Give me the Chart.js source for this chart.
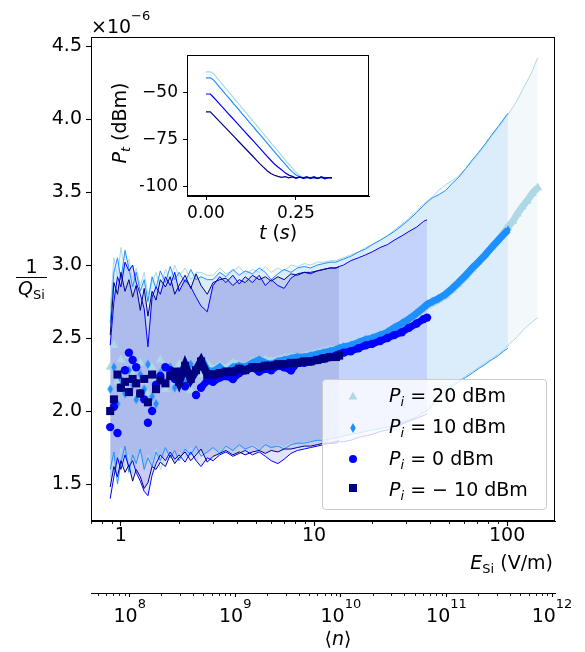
<!DOCTYPE html>
<html><head><meta charset="utf-8">
<script src="https://cdn.jsdelivr.net/npm/chart.js@4"></script>
<style>
html,body{margin:0;padding:0;background:#fff;}
#wrap{position:relative;width:585px;height:652px;overflow:hidden;font-family:'DejaVu Sans',sans-serif;color:#000;}
canvas{position:absolute;}
.t{position:absolute;line-height:1;white-space:nowrap;font-size:19px;}
.i{font-style:italic;}
.sub{font-size:13px;position:relative;top:4px;}
.sup{font-size:13px;position:relative;top:-13.5px;}
#legend{position:absolute;left:322px;top:379px;width:225px;height:131px;box-sizing:border-box;border:1px solid #cccccc;border-radius:4px;background:rgba(255,255,255,0.8);}
#legend svg{position:absolute;}
</style></head><body>
<div id="wrap">
<canvas id="main" width="585" height="652" style="left:0;top:0"></canvas>
<canvas id="inset" width="240" height="215" style="left:140px;top:40px"></canvas>

<div class="t" style="left:91px;top:17.2px">×10<span class="sup">−6</span></div>
<div class="t" style="left:31.5px;top:257.2px;transform:translateX(-50%)">1</div>
<div style="position:absolute;left:16px;top:276.5px;width:31px;height:1.4px;background:#000"></div>
<div class="t" style="left:31.5px;top:279.4px;transform:translateX(-50%)"><span class="i">Q</span><span class="sub">Si</span></div>
<div class="t" style="right:32px;top:552.9px"><span class="i">E</span><span class="sub">Si</span> (V/m)</div>
<div class="t" style="left:338px;top:628.9px;transform:translateX(-50%)">⟨<span class="i">n</span>⟩</div>
<div class="t" style="left:278px;top:223px;transform:translateX(-50%)"><span class="i">t</span> (<span class="i">s</span>)</div>
<div class="t" style="left:118.5px;top:123px;transform:translate(-50%,-50%) rotate(-90deg)"><span class="i">P</span><span class="sub i">t</span> (dBm)</div>

<div id="legend">
  <svg style="left:25px;top:11px" width="10" height="10"><polygon points="5,0.8 9.4,8.6 0.6,8.6" fill="#add8e6"/></svg>
  <svg style="left:26px;top:42px" width="8" height="12"><polygon points="4,1 6.8,6 4,11 1.2,6" fill="#1e90ff"/></svg>
  <svg style="left:25px;top:74px" width="10" height="10"><circle cx="5" cy="5" r="4" fill="#0000ff"/></svg>
  <svg style="left:25px;top:103px" width="10" height="10"><rect x="1" y="1" width="8" height="8" fill="#000080"/></svg>
  <div class="t" style="left:66px;top:6.2px"><span class="i">P</span><span class="sub i">i</span> = 20 dBm</div>
  <div class="t" style="left:66px;top:37.2px"><span class="i">P</span><span class="sub i">i</span> = 10 dBm</div>
  <div class="t" style="left:66px;top:68.9px"><span class="i">P</span><span class="sub i">i</span> = 0 dBm</div>
  <div class="t" style="left:66px;top:99.9px"><span class="i">P</span><span class="sub i">i</span> = − 10 dBm</div>
</div>
</div>
<script>
// ---------------- data ----------------
const E_GRID = [0.88,0.92,0.96,1.0,1.05,1.1,1.15,1.2,1.26,1.32,1.38,1.45,1.52,1.6,1.7,1.8,1.9,2.0,2.15,2.3,
  2.45,2.6,2.8,3.0,3.25,3.5,3.8,4.1,4.4,4.8,5.2,5.6,6.0,6.5,7.0,7.6,8.2,8.9,9.6,10.4,
  11.2,12.1,13.0,13.5,14.2,15.5,17,18.5,20,22,24,26,28.5,31,34,37,38.5,41,44,48,
  52,56,61,66,71,77,83,90,96,101,107,113,120,127,135,144];

const LIGHT_C = [2.30,2.45,2.20,2.35,2.15,2.38,2.25,2.10,2.33,2.20,
 2.12,2.30,2.22,2.35,2.15,2.28,2.20,2.32,2.26,2.14,
 2.30,2.25,2.32,2.28,2.31,2.29,2.33,2.32,2.30,2.34,
 2.33,2.35,2.34,2.35,2.36,2.37,2.37,2.38,2.39,2.40,
 2.41,2.42,2.42,2.43,2.43,2.45,2.46,2.48,2.49,2.51,
 2.53,2.56,2.59,2.62,2.66,2.70,2.72,2.74,2.76,2.79,
 2.83,2.87,2.92,2.97,3.02,3.07,3.12,3.17,3.22,3.26,
 3.30,3.35,3.40,3.44,3.49,3.53];
const LIGHT_U = [2.70,3.05,2.92,3.12,2.96,3.04,2.90,2.98,2.86,2.95,
 2.80,2.88,2.95,2.85,2.97,2.90,3.00,2.92,2.98,2.90,
 2.95,2.95,2.93,2.93,2.98,2.94,2.96,2.99,2.94,2.97,
 2.95,2.99,2.95,2.98,2.96,3.00,2.99,3.01,3.00,3.02,
 3.02,3.03,3.03,3.04,3.05,3.07,3.09,3.12,3.14,3.17,
 3.20,3.24,3.28,3.32,3.37,3.42,3.44,3.47,3.51,3.55,
 3.58,3.61,3.66,3.71,3.76,3.82,3.88,3.94,3.99,4.03,
 4.08,4.13,4.20,4.26,4.33,4.42];
const LIGHT_L = [1.55,1.68,1.60,1.75,1.62,1.70,1.57,1.66,1.72,1.58,
 1.70,1.64,1.74,1.60,1.68,1.73,1.65,1.72,1.68,1.75,
 1.66,1.73,1.70,1.74,1.72,1.76,1.71,1.75,1.73,1.77,
 1.74,1.76,1.73,1.77,1.75,1.78,1.77,1.79,1.79,1.80,
 1.81,1.82,1.82,1.83,1.83,1.85,1.86,1.87,1.88,1.89,
 1.90,1.92,1.93,1.95,1.97,2.00,2.01,2.05,2.10,2.14,
 2.18,2.21,2.24,2.27,2.30,2.33,2.36,2.39,2.42,2.45,
 2.48,2.51,2.55,2.58,2.61,2.64];

const DODGER_C = [2.15,2.30,2.05,2.22,2.12,2.28,2.18,2.08,2.25,2.15,
 2.32,2.10,2.05,2.26,2.20,2.30,2.16,2.25,2.20,2.32,
 2.26,2.36,2.28,2.27,2.30,2.26,2.30,2.31,2.30,2.33,
 2.35,2.33,2.32,2.34,2.35,2.36,2.37,2.37,2.38,2.39,
 2.40,2.41,2.42,2.43,2.44,2.45,2.47,2.49,2.50,2.52,
 2.54,2.57,2.60,2.63,2.67,2.71,2.73,2.75,2.77,2.80,
 2.84,2.88,2.93,2.98,3.02,3.07,3.12,3.17,3.21,3.24];
const DODGER_U = [2.60,2.95,3.05,2.90,3.10,2.98,2.85,2.95,2.82,2.90,
 2.75,2.92,2.84,2.96,2.88,2.99,2.90,2.95,2.88,2.97,
 2.90,2.92,2.90,2.90,2.95,2.92,2.97,2.93,2.96,2.94,
 2.98,2.95,2.90,2.94,2.97,2.95,2.98,2.99,2.98,3.00,
 3.01,3.02,3.02,3.03,3.04,3.06,3.09,3.11,3.14,3.17,
 3.20,3.23,3.27,3.31,3.36,3.41,3.43,3.46,3.48,3.51,
 3.56,3.60,3.66,3.72,3.77,3.83,3.89,3.95,4.00,4.04];
const DODGER_L = [1.60,1.72,1.50,1.65,1.76,1.58,1.70,1.64,1.74,1.60,
 1.68,1.62,1.72,1.66,1.75,1.68,1.73,1.66,1.74,1.70,
 1.76,1.69,1.72,1.75,1.71,1.76,1.73,1.77,1.74,1.76,
 1.73,1.77,1.75,1.76,1.74,1.77,1.78,1.78,1.79,1.80,
 1.80,1.81,1.82,1.82,1.83,1.84,1.85,1.86,1.87,1.88,
 1.89,1.90,1.92,1.94,1.96,1.99,2.00,2.04,2.09,2.14,
 2.17,2.20,2.23,2.26,2.29,2.32,2.35,2.38,2.41,2.43];

const BLUE_C = [1.89,2.03,1.85,2.16,2.28,2.40,2.35,2.30,2.12,2.08,
 1.92,2.00,2.18,2.24,2.30,2.28,2.22,2.27,2.17,2.24,
 2.11,2.16,2.21,2.20,2.23,2.24,2.22,2.26,2.28,2.30,
 2.27,2.29,2.28,2.31,2.30,2.28,2.33,2.33,2.34,2.35,
 2.36,2.37,2.38,2.39,2.40,2.41,2.43,2.45,2.46,2.48,
 2.50,2.52,2.54,2.57,2.60,2.63,2.64];
const BLUE_U = [2.45,2.75,2.92,2.85,3.02,2.96,3.00,2.88,2.80,2.70,
 2.44,2.78,2.85,2.80,2.92,2.86,2.95,2.82,2.90,2.85,
 2.78,2.72,2.68,2.86,2.92,2.88,2.93,2.87,2.92,2.88,
 2.93,2.86,2.90,2.86,2.84,2.91,2.94,2.95,2.94,2.96,
 2.97,2.98,2.98,2.99,3.00,3.03,3.05,3.07,3.09,3.12,
 3.14,3.17,3.20,3.23,3.26,3.30,3.31];
const BLUE_L = [1.40,1.55,1.68,1.60,1.70,1.62,1.66,1.58,1.52,1.45,
 1.42,1.56,1.64,1.70,1.66,1.72,1.67,1.70,1.65,1.72,
 1.66,1.62,1.68,1.66,1.70,1.72,1.69,1.71,1.73,1.70,
 1.72,1.69,1.66,1.64,1.67,1.71,1.73,1.74,1.75,1.76,
 1.77,1.78,1.78,1.79,1.79,1.80,1.82,1.83,1.84,1.86,
 1.87,1.89,1.91,1.93,1.95,1.97,1.98];

const NAVY_C = [2.00,2.08,2.25,2.16,2.20,2.13,2.22,2.19,2.12,2.22,
 2.06,2.25,2.15,2.21,2.19,2.24,2.27,2.20,2.31,2.22,
 2.28,2.34,2.25,2.25,2.26,2.27,2.27,2.29,2.28,2.30,
 2.30,2.31,2.31,2.32,2.32,2.33,2.33,2.34,2.34,2.35,
 2.36,2.37,2.37,2.38];
const NAVY_U = [2.52,2.88,2.80,2.95,2.82,2.90,2.78,2.86,2.69,2.84,
 2.65,2.82,2.76,2.90,2.85,2.92,2.80,2.86,2.93,2.84,
 2.94,2.86,2.80,2.88,2.90,2.91,2.86,2.90,2.88,2.93,
 2.90,2.92,2.89,2.92,2.90,2.94,2.93,2.95,2.95,2.96,
 2.97,2.98,2.98,2.99];
const NAVY_L = [1.48,1.62,1.55,1.66,1.58,1.63,1.52,1.60,1.55,1.47,
 1.51,1.62,1.60,1.65,1.62,1.70,1.64,1.68,1.72,1.66,
 1.70,1.74,1.65,1.69,1.71,1.73,1.70,1.72,1.70,1.72,
 1.73,1.71,1.73,1.72,1.74,1.74,1.75,1.76,1.76,1.77,
 1.78,1.78,1.79,1.80];

const Y_TICKS = [1.5,2.0,2.5,3.0,3.5,4.0,4.5];
const X_TICKS = [1,10,100];
const N_EXPONENTS = [8,9,10,11,12];

// inset: ring-down traces
const IN_T = [0,0.012,0.02,0.03,0.04,0.05,0.06,0.07,0.08,0.09,0.10,0.11,0.12,0.13,0.14,0.15,0.16,0.17,
  0.18,0.19,0.20,0.21,0.22,0.23,0.24,0.25,0.26,0.27,0.28,0.29,0.30,0.31,0.32,0.33,0.34,0.35];
const IN_LIGHT = [-39.3,-39.3,-40.0,-42.3,-44.6,-46.9,-49.2,-51.5,-53.8,-56.1,-58.4,-60.7,-63.0,-65.3,-67.6,-69.9,-72.2,-74.5,
  -76.8,-79.1,-81.4,-83.7,-86.0,-88.2,-90.4,-92.6,-94.3,-95.2,-95.8,-95.1,-96.0,-95.4,-95.9,-95.2,-95.7,-95.3];
const IN_DODGER = [-42.4,-42.4,-43.4,-45.6,-47.9,-50.1,-52.4,-54.6,-56.9,-59.1,-61.4,-63.6,-65.9,-68.1,-70.4,-72.6,-74.9,-77.1,
  -79.4,-81.6,-83.9,-86.1,-88.3,-90.5,-92.4,-94.0,-95.0,-95.6,-95.1,-96.0,-95.3,-95.8,-95.0,-95.9,-95.4,-95.6];
const IN_BLUE = [-51.0,-51.0,-52.6,-54.7,-56.8,-58.9,-61.0,-63.1,-65.2,-67.3,-69.4,-71.5,-73.6,-75.7,-77.8,-79.9,-82.0,-84.1,
  -86.2,-88.2,-89.8,-91.3,-92.9,-94.1,-94.8,-95.6,-95.0,-95.9,-95.3,-95.7,-94.9,-95.8,-95.2,-96.1,-95.4,-95.6];
const IN_NAVY = [-60.5,-60.5,-62.1,-64.1,-66.1,-68.1,-70.1,-72.1,-74.1,-76.1,-78.1,-80.1,-82.1,-84.1,-86.1,-88.1,-90.0,-91.8,
  -93.2,-94.2,-94.8,-95.3,-94.9,-95.6,-95.1,-95.8,-95.2,-95.5,-95.0,-95.7,-95.3,-95.9,-95.1,-95.6,-95.4,-95.5];
const IN_X_TICKS = [0, 0.25];
const IN_Y_TICKS = [-100, -75, -50];

// ---------------- drawing ----------------
Chart.defaults.font.family = "'DejaVu Sans', sans-serif";
Chart.defaults.color = '#000';
Chart.defaults.animation = false;

function pts(xs, ys){ return ys.map((y,i)=>({x:xs[i], y:y})); }
function thinDiamond(color){
  const c=document.createElement('canvas'); c.width=8; c.height=12;
  const g=c.getContext('2d'); g.fillStyle=color; g.beginPath();
  g.moveTo(4,1.2); g.lineTo(6.8,6); g.lineTo(4,10.8); g.lineTo(1.2,6); g.closePath(); g.fill();
  return c;
}
const SERIES = [
  {c:LIGHT_C, u:LIGHT_U, l:LIGHT_L, color:'#add8e6', band:'rgba(173,216,230,0.14)', pt:'triangle', r:5.2, trailFrom:2.6, trailW:7},
  {c:DODGER_C, u:DODGER_U, l:DODGER_L, color:'#1e90ff', band:'rgba(30,144,255,0.11)', pt:thinDiamond('#1e90ff'), r:5, trailFrom:2.6, trailW:7},
  {c:BLUE_C, u:BLUE_U, l:BLUE_L, color:'#0000ff', band:'rgba(0,0,255,0.11)', pt:'circle', r:4.2, trailFrom:2.6, trailW:7},
  {c:NAVY_C, u:NAVY_U, l:NAVY_L, color:'#000080', band:'rgba(0,0,128,0.11)', pt:'rect', r:5.7, trailFrom:1.9, trailW:8}
];
const datasets = [];
SERIES.forEach((s,k)=>{
  datasets.push({data:pts(E_GRID,s.u), borderColor:s.color, borderWidth:1, pointRadius:0, fill:'+1', backgroundColor:s.band, order:20-k});
  datasets.push({data:pts(E_GRID,s.l), borderColor:s.color, borderWidth:1, pointRadius:0, fill:false, order:20-k});
});
SERIES.forEach((s,k)=>{
  datasets.push({data:pts(E_GRID,s.c), showLine:true, borderColor:s.color, borderWidth:s.trailW, fill:false,
    segment:{borderColor: ctx => ctx.p0.parsed.x < s.trailFrom ? 'rgba(0,0,0,0)' : undefined},
    pointStyle:s.pt, pointRadius:s.r,
    pointBackgroundColor:s.color, pointBorderColor:s.color, pointBorderWidth:0, order:10-k});
});

const gridOpts = {drawOnChartArea:false, drawTicks:true, tickLength:5, tickColor:'#000', tickWidth:1.1};
const borderOpts = {display:true, color:'#000', width:1};

const framePlugin = {
  id:'frame',
  afterDraw(chart){
    const {ctx, chartArea:a} = chart;
    ctx.save();
    ctx.strokeStyle='#000'; ctx.lineWidth=1;
    ctx.strokeRect(Math.round(a.left)+0.5, Math.round(a.top)+0.5, Math.round(a.right-a.left)-1, Math.round(a.bottom-a.top)-1);
    const minor = (scale, y0, len) => {
      const lo=Math.floor(Math.log10(scale.min)), hi=Math.ceil(Math.log10(scale.max));
      for(let d=lo; d<=hi; d++) for(let m=2; m<=9; m++){
        const v=m*Math.pow(10,d);
        if(v<scale.min||v>scale.max) continue;
        const x=Math.round(scale.getPixelForValue(v))+0.5;
        ctx.beginPath(); ctx.moveTo(x,y0); ctx.lineTo(x,y0+len); ctx.stroke();
      }
    };
    if(chart.scales.x2){
      ctx.lineWidth=0.9;
      minor(chart.scales.x, Math.round(a.bottom), 3);
      minor(chart.scales.x2, Math.round(chart.scales.x2.top), 3);
    }
    ctx.restore();
  }
};

const mainChart = new Chart(document.getElementById('main'), {
  type:'line',
  data:{datasets},
  options:{
    responsive:false, animation:false, events:[], devicePixelRatio:1,
    layout:{padding:{left:0, right:30, top:37, bottom:0}},
    plugins:{legend:{display:false}, tooltip:{enabled:false}, filler:{drawTime:'beforeDatasetsDraw'}},
    scales:{
      x:{type:'logarithmic', position:'bottom', weight:0, min:0.708, max:177,
        afterBuildTicks:s=>{ s.ticks = X_TICKS.map(v=>({value:v})); },
        afterFit:s=>{ s.height = 72; },
        ticks:{autoSkip:false, maxRotation:0, padding:-1, font:{size:19}, color:'#000', callback:v=>String(v)},
        grid:gridOpts, border:borderOpts},
      x2:{type:'logarithmic', position:'bottom', weight:1, min:4.3e7, max:1.067e12,
        afterBuildTicks:s=>{ s.ticks = N_EXPONENTS.map(e=>({value:Math.pow(10,e)})); },
        afterFit:s=>{ s.height = 59; },
        ticks:{display:false},
        grid:Object.assign({}, gridOpts, {tickLength:4}), border:borderOpts},
      y:{type:'linear', position:'left', min:1.247, max:4.562,
        afterBuildTicks:s=>{ s.ticks = Y_TICKS.map(v=>({value:v})); },
        afterFit:s=>{ s.width = 91; },
        ticks:{padding:4, font:{size:19}, color:'#000', callback:v=>v.toFixed(1)},
        grid:gridOpts, border:borderOpts}
    }
  },
  plugins:[framePlugin]
});

// secondary axis labels (10^n) placed with the library's scale
const wrap = document.getElementById('wrap');
const x2 = mainChart.scales.x2;
N_EXPONENTS.forEach(e=>{
  const px = x2.getPixelForValue(Math.pow(10,e));
  const d = document.createElement('div');
  d.className='t';
  d.style.left = px+'px';
  d.style.top = (621.7-16.1)+'px';
  d.style.transform = 'translateX(-50%)';
  d.innerHTML = '10<span class="sup">'+e+'</span>';
  wrap.appendChild(d);
});

// inset
const inGrid = {drawOnChartArea:false, drawTicks:true, tickLength:4, tickColor:'#000', tickWidth:1};
const inDatasets = [
  {data:pts(IN_T,IN_NAVY), borderColor:'#000080'},
  {data:pts(IN_T,IN_BLUE), borderColor:'#0000ff'},
  {data:pts(IN_T,IN_DODGER), borderColor:'#1e90ff'},
  {data:pts(IN_T,IN_LIGHT), borderColor:'#add8e6'}
].map(d=>Object.assign(d,{borderWidth:1.2, pointRadius:0, fill:false}));

new Chart(document.getElementById('inset'), {
  type:'line',
  data:{datasets:inDatasets},
  options:{
    responsive:false, animation:false, events:[], devicePixelRatio:1,
    layout:{padding:{left:0, right:11, top:11, bottom:4}},
    plugins:{legend:{display:false}, tooltip:{enabled:false}},
    scales:{
      x:{type:'linear', min:-0.0528, max:0.4528,
        afterBuildTicks:s=>{ s.ticks = IN_X_TICKS.map(v=>({value:v})); },
        afterFit:s=>{ s.height = 55; },
        ticks:{padding:3, font:{size:17}, color:'#000', maxRotation:0, callback:v=>v.toFixed(2)},
        grid:inGrid, border:borderOpts},
      y:{type:'linear', min:-105.2, max:-30.4,
        afterBuildTicks:s=>{ s.ticks = IN_Y_TICKS.map(v=>({value:v})); },
        afterFit:s=>{ s.width = 47; },
        ticks:{padding:5, font:{size:17}, color:'#000', callback:v=>'\u2212'+Math.abs(v)},
        grid:inGrid, border:borderOpts}
    }
  },
  plugins:[framePlugin]
});
</script>
</body></html>
